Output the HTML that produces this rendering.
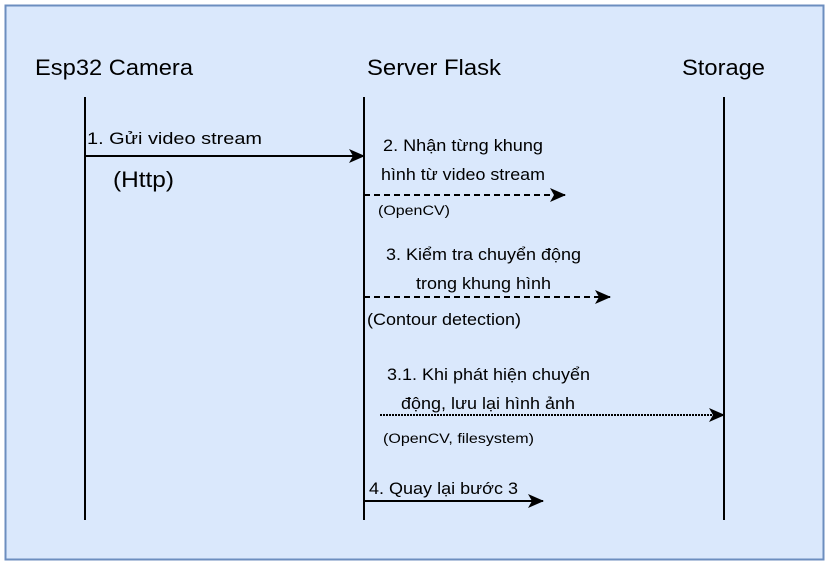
<!DOCTYPE html>
<html><head><meta charset="utf-8"><style>
html,body{margin:0;padding:0;background:#fff;width:829px;height:564px;overflow:hidden}
svg text{font-family:"Liberation Sans",sans-serif;fill:#000}
</style></head><body>
<svg width="829" height="564" viewBox="0 0 829 564" xmlns="http://www.w3.org/2000/svg">
<defs>
<marker id="a" markerWidth="16" markerHeight="14" refX="15" refY="7" orient="auto" markerUnits="userSpaceOnUse">
<path d="M0,0 L16,7 L0,14 L4,7 Z" fill="#000"/></marker>
</defs>
<rect x="5.5" y="5.5" width="818" height="554" fill="#dae8fc" stroke="#6c8ebf" stroke-width="2"/>
<text x="35" y="75" font-size="22" textLength="158" lengthAdjust="spacingAndGlyphs">Esp32 Camera</text>
<text x="367" y="75" font-size="22" textLength="134" lengthAdjust="spacingAndGlyphs">Server Flask</text>
<text x="682" y="75" font-size="22" textLength="83" lengthAdjust="spacingAndGlyphs">Storage</text>
<g stroke="#000" stroke-width="2">
<line x1="85" y1="97" x2="85" y2="520"/>
<line x1="364" y1="97" x2="364" y2="520"/>
<line x1="724" y1="97" x2="724" y2="520"/>
<line x1="85" y1="156" x2="364" y2="156" marker-end="url(#a)"/>
<line x1="364" y1="195" x2="565" y2="195" stroke-dasharray="6,4" marker-end="url(#a)"/>
<line x1="364" y1="297" x2="610" y2="297" stroke-dasharray="6,4" marker-end="url(#a)"/>
<line x1="380" y1="415" x2="724" y2="415" stroke-dasharray="2,1" marker-end="url(#a)"/>
<line x1="364" y1="501" x2="543" y2="501" marker-end="url(#a)"/>
</g>
<text x="87" y="144" font-size="17" textLength="175" lengthAdjust="spacingAndGlyphs">1. Gửi video stream</text>
<text x="113" y="187" font-size="22" textLength="61" lengthAdjust="spacingAndGlyphs">(Http)</text>
<text x="383" y="151" font-size="17" textLength="160" lengthAdjust="spacingAndGlyphs">2. Nhận từng khung</text>
<text x="381" y="180" font-size="17" textLength="164" lengthAdjust="spacingAndGlyphs">hình từ video stream</text>
<text x="378" y="215" font-size="13.5" textLength="72" lengthAdjust="spacingAndGlyphs">(OpenCV)</text>
<text x="386" y="260" font-size="17" textLength="195" lengthAdjust="spacingAndGlyphs">3. Kiểm tra chuyển động</text>
<text x="416" y="289" font-size="17" textLength="135" lengthAdjust="spacingAndGlyphs">trong khung hình</text>
<text x="367" y="325" font-size="17" textLength="154" lengthAdjust="spacingAndGlyphs">(Contour detection)</text>
<text x="387" y="380" font-size="17" textLength="203" lengthAdjust="spacingAndGlyphs">3.1. Khi phát hiện chuyển</text>
<text x="401" y="409" font-size="17" textLength="174" lengthAdjust="spacingAndGlyphs">động, lưu lại hình ảnh</text>
<text x="383" y="443" font-size="13.5" textLength="151" lengthAdjust="spacingAndGlyphs">(OpenCV, filesystem)</text>
<text x="369" y="494" font-size="17" textLength="149" lengthAdjust="spacingAndGlyphs">4. Quay lại bước 3</text>
</svg>
</body></html>
